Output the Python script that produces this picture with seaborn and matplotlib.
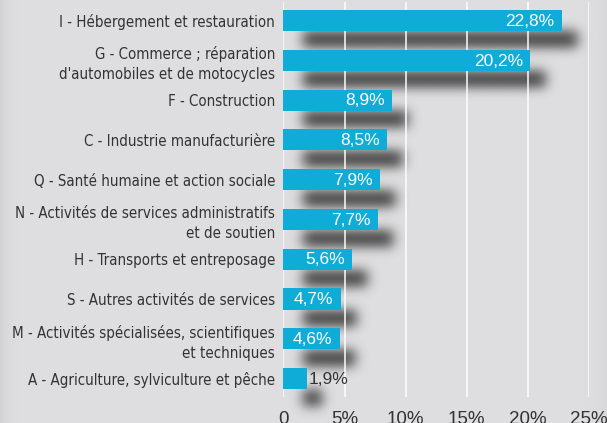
import numpy as np
import pandas as pd
import matplotlib
matplotlib.use("Agg")
import matplotlib.pyplot as plt
import seaborn as sns
from matplotlib import font_manager

categories = [
    "I - Hébergement et restauration",
    "G - Commerce ; réparation\nd'automobiles et de motocycles",
    "F - Construction",
    "C - Industrie manufacturière",
    "Q - Santé humaine et action sociale",
    "N - Activités de services administratifs\net de soutien",
    "H - Transports et entreposage",
    "S - Autres activités de services",
    "M - Activités spécialisées, scientifiques\net techniques",
    "A - Agriculture, sylviculture et pêche",
]
values = [22.8, 20.2, 8.9, 8.5, 7.9, 7.7, 5.6, 4.7, 4.6, 1.9]
value_labels = ["22,8%", "20,2%", "8,9%", "8,5%", "7,9%", "7,7%", "5,6%", "4,7%", "4,6%", "1,9%"]
xticks = [0, 5, 10, 15, 20, 25]
xtick_labels = ["0", "5%", "10%", "15%", "20%", "25%"]

# pick a condensed font for the category labels
cat_fp = None
cat_size = 12.3
ttfs = font_manager.fontManager.ttflist
for f in ttfs:
    fn = f.fname.lower()
    if "narrow" in fn and "liberation" in fn and "bold" not in fn and "italic" not in fn:
        cat_fp = font_manager.FontProperties(fname=f.fname)
        break
if cat_fp is None:
    for f in ttfs:
        fn = f.fname.lower()
        if "dejavusanscondensed.ttf" in fn:
            cat_fp = font_manager.FontProperties(fname=f.fname)
            cat_size = 10.8
            break
if cat_fp is None:
    cat_fp = font_manager.FontProperties(family="Liberation Sans")
    cat_size = 10.3

sns.set_style("white")
plt.rcParams["font.family"] = ["Liberation Sans", "DejaVu Sans"]

BG = "#dfdfe1"
BAR = "#0facd8"
TXT = "#333333"

fig = plt.figure(figsize=(6.07, 4.23), dpi=100, facecolor=BG)

# background vignette
bgax = fig.add_axes([0, 0, 1, 1], zorder=-10)
xs = np.linspace(0, 1, 607)
prof = np.ones_like(xs)
prof -= 0.06 * np.exp(-xs / 0.012)
prof -= 0.03 * np.exp(-(1 - xs) / 0.02)
grad = np.tile(prof, (10, 1))
base = np.array([0xdf, 0xdf, 0xe1]) / 255.0
img = grad[..., None] * base[None, None, :]
bgax.imshow(img, aspect="auto", extent=[0, 1, 0, 1])
bgax.set_axis_off()

ax = fig.add_axes([0.467, 0.0615, 0.503, 0.9335])
ax.set_facecolor("none")

df = pd.DataFrame({"cat": categories, "val": values})
n = len(values)

# blurred drop shadows built from the values (gaussian-blurred mask)
x0, x1, y0, y1 = -4.0, 29.0, -1.5, 11.0
gx = np.arange(x0, x1, 0.04)
gy = np.arange(y0, y1, 0.01)
X, Y = np.meshgrid(gx, gy)
mask = np.zeros_like(X)
for i, v in enumerate(values):
    cy = i + 0.49
    mask[(X >= 1.55) & (X <= v + 1.2) & (Y >= cy - 0.21) & (Y <= cy + 0.21)] = 1.0

def gauss_kernel(sigma, step):
    r = int(np.ceil(3 * sigma / step))
    k = np.exp(-0.5 * (np.arange(-r, r + 1) * step / sigma) ** 2)
    return k / k.sum()

kx = gauss_kernel(0.5, 0.04)
ky = gauss_kernel(0.14, 0.01)
blur = np.apply_along_axis(lambda r: np.convolve(r, kx, mode="same"), 1, mask)
blur = np.apply_along_axis(lambda c: np.convolve(c, ky, mode="same"), 0, blur)
rgba = np.zeros(blur.shape + (4,))
rgba[..., :3] = 0x2c / 255.0
rgba[..., 3] = np.clip(blur, 0, 1) * 0.85
shadow = ax.imshow(rgba, extent=[x0, x1, y1, y0], origin="upper", aspect="auto",
                   interpolation="bilinear", zorder=1)
shadow.set_clip_on(False)

for xv in xticks:
    ax.axvline(xv, color="white", lw=1.2, alpha=0.9, zorder=2)

sns.barplot(data=df, x="val", y="cat", orient="h", color=BAR, width=0.53,
            saturation=1, ax=ax, zorder=3, edgecolor="none")

for i, (v, lab) in enumerate(zip(values, value_labels)):
    if v > 3:
        ax.text(v - 0.6, i + 0.02, lab, ha="right", va="center", color="white",
                fontsize=12.5, zorder=4)
    else:
        ax.text(v + 0.15, i + 0.02, lab, ha="left", va="center", color=TXT,
                fontsize=12.5, zorder=4)

ax.set_xlim(0, 25)
ax.set_ylim(9.465, -0.465)
ax.set_xticks(xticks)
ax.set_xticklabels(xtick_labels, fontsize=13.5, color=TXT)
ax.tick_params(axis="x", length=0, pad=10)
ax.tick_params(axis="y", length=0, pad=6)
for t in ax.get_yticklabels():
    t.set_fontproperties(cat_fp)
    t.set_fontsize(cat_size)
    t.set_color(TXT)
    t.set_linespacing(1.4)
ax.set_xlabel("")
ax.set_ylabel("")
for s in ax.spines.values():
    s.set_visible(False)

fig.savefig("out.png", dpi=100, facecolor=BG)
